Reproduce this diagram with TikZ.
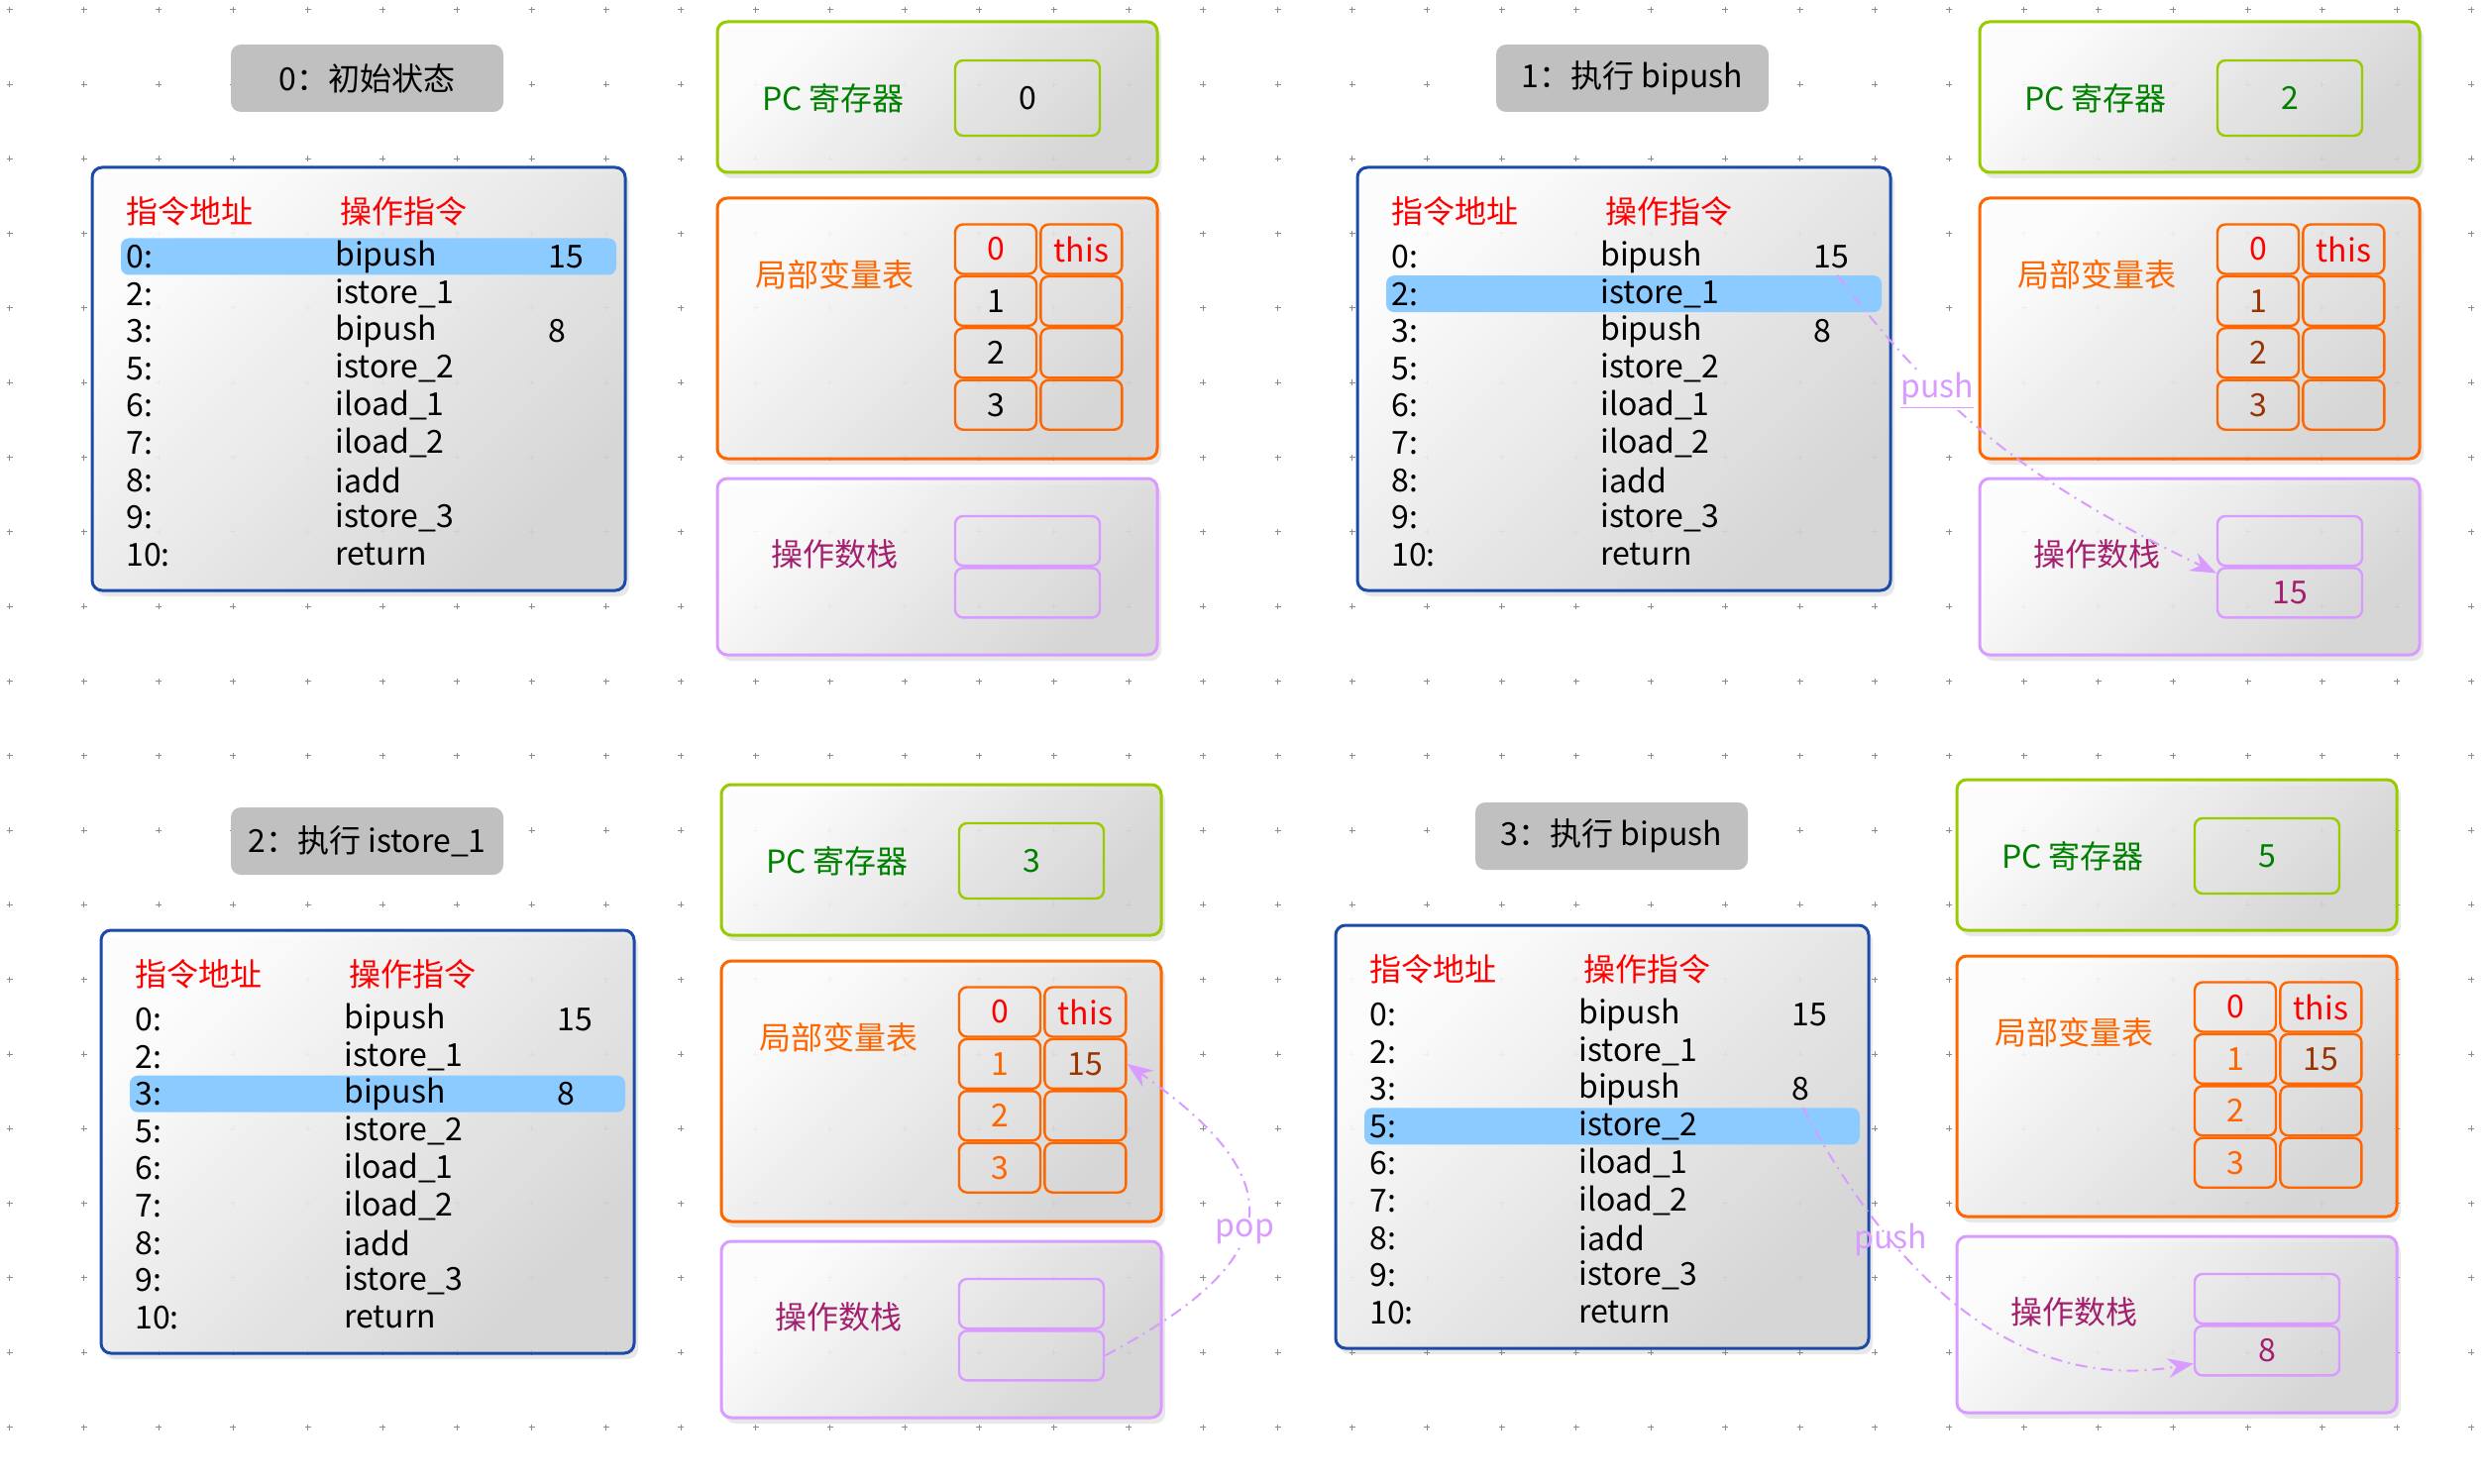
\documentclass[tikz,border=0pt]{standalone}
\usepackage{fontspec}
\setmainfont{Noto Sans CJK SC}
\usetikzlibrary{arrows.meta, calc, positioning, shadows}
\definecolor{codeblue}{HTML}{1C4AA8}
\definecolor{hlblue}{HTML}{8CCBFF}
\definecolor{pcgreen}{HTML}{99CC00}
\definecolor{txtgreen}{HTML}{008000}
\definecolor{lvorange}{HTML}{FF6600}
\definecolor{lvbrown}{HTML}{993300}
\definecolor{oslilac}{HTML}{D99BFF}
\definecolor{osplum}{HTML}{A3206E}
\definecolor{titlegray}{HTML}{C0C0C0}
\tikzset{
  gridmark/.style={draw=black!45, line width=0.5pt},
  panel/.style={draw, rounded corners=5pt, line width=1.5pt, top color=white, bottom color=black!17,
    shading angle=45, fill opacity=0.9,
    drop shadow={shadow xshift=2pt, shadow yshift=-3pt, opacity=0.18}},
  codebox/.style={panel, draw=codeblue, minimum width=269pt, minimum height=213.5pt},
  pcbox/.style={panel, draw=pcgreen, minimum width=222pt, minimum height=76pt},
  lvbox/.style={panel, draw=lvorange, minimum width=222pt, minimum height=131.5pt},
  osbox/.style={panel, draw=oslilac, minimum width=222pt, minimum height=89pt},
  titlebox/.style={fill=titlegray, rounded corners=5pt, minimum width=137.5pt, minimum height=34pt},
  hlbar/.style={fill=hlblue, rounded corners=4pt, minimum width=250pt, minimum height=18.5pt, inner sep=0pt},
  rowtext/.style={anchor=west, inner sep=0pt},
  pcval/.style={draw=pcgreen, line width=1.2pt, rounded corners=4pt, minimum width=73pt, minimum height=38pt},
  lvcell/.style={draw=lvorange, line width=1.2pt, rounded corners=4pt, minimum width=41pt, minimum height=25pt, inner sep=0pt},
  oscell/.style={draw=oslilac, line width=1.2pt, rounded corners=4pt, minimum width=73pt, minimum height=25pt, inner sep=0pt},
  flow/.style={draw=oslilac, line width=1pt, dash pattern=on 6pt off 3pt on 1pt off 3pt,
    -{Stealth[length=13pt, width=10pt]}},
  flowlabel/.style={text=oslilac, inner sep=1pt}
}

\begin{document}
\begin{tikzpicture}[x=0.5pt, y=0.5pt, font=\fontsize{16}{19}\selectfont]
  \useasboundingbox (0,0) rectangle (2506,-1498);
  % dotted grid
  \foreach \i in {0,...,33}
    \foreach \j in {0,...,19}
      \draw[gridmark] ({9.5+75.3*\i},{-9.8-75.3*\j}) ++(-3,0) -- ++(6,0) ++(-3,-3) -- ++(0,6);

  % one step per panel
  \foreach \p/\tx/\lx/\ly/\rx/\ttl/\hl/\pc/\pccol/\numcol/\lvb/\osb in {
      0/0/0/0/0/0：初始状态/0/0/black/black//,
      1/1277/1277/0/1274/1：执行 bipush/1/2/txtgreen/lvbrown//15,
      2/0/9/770/4/2：执行 istore\_1/2/3/txtgreen/lvorange/15/,
      3/1256/1255/765/1251/3：执行 bipush/3/5/txtgreen/lvorange/15/8}
  {
    \begin{scope}[shift={(\tx,-\ly)}]
      \node[titlebox] (title\p) at (370.5,-79) {\ttl};
    \end{scope}
    \begin{scope}[shift={(\lx,-\ly)}]
      \node[codebox] (code\p) at (362,-382.5) {};
      \node[hlbar] (hl\p) at (372,{-259-37.6*\hl}) {};
      \node[rowtext, text=red] (head\p a) at (127,-213) {指令地址};
      \node[rowtext, text=red] (head\p b) at (343,-213) {操作指令};
      \foreach \a/\op/\v [count=\k from 0] in {0:/bipush/15, 2:/istore\_1/, 3:/bipush/8,
          5:/istore\_2/, 6:/iload\_1/, 7:/iload\_2/, 8:/iadd/, 9:/istore\_3/, 10:/return/}
      {
        \node[rowtext] (adr\p-\k) at (127,{-259-37.6*\k}) {\a};
        \node[rowtext] (op\p-\k) at (338,{-259-37.6*\k}) {\op};
        \node[rowtext] (val\p-\k) at (553,{-259-37.6*\k}) {\v};
      }
    \end{scope}
    \begin{scope}[shift={(\rx,-\ly)}]
      \node[pcbox] (pc\p) at (946,-98) {};
      \node[text=txtgreen] (pclabel\p) at (841,-99) {PC 寄存器};
      \node[pcval, text=\pccol] (pcval\p) at (1037,-99) {\pc};
      \node[lvbox] (lv\p) at (946,-331.5) {};
      \node[text=lvorange] (lvlabel\p) at (842,-277) {局部变量表};
      \node[lvcell, text=red] (lvk0\p) at (1005,-251.5) {0};
      \node[lvcell, text=red, right=1pt of lvk0\p] (lvv0\p) {this};
      \foreach \r [remember=\r as \q (initially 0)] in {1,2,3}
      {
        \node[lvcell, text=\numcol, below=0pt of lvk\q\p] (lvk\r\p) {\r};
        \node[lvcell, text=lvbrown, right=1pt of lvk\r\p] (lvv\r\p) {\ifnum\r=1 \lvb\fi};
      }
      \node[osbox] (os\p) at (946,-572) {};
      \node[text=osplum] (oslabel\p) at (842,-559) {操作数栈};
      \node[oscell] (osa\p) at (1037,-546) {};
      \node[oscell, text=osplum, below=0pt of osa\p] (osb\p) {\osb};
    \end{scope}
  }

  % push / pop
  \draw[flow] ($(hl1.north east)+(-45,0)$) to[out=-53, in=154]
    node[flowlabel, pos=.3, fill=white] {\underline{push}} (osb1.165);
  \draw[flow] (osb2.east) to[out=28, in=-35, looseness=1.8]
    node[flowlabel, pos=.45, fill=white] {pop} (lvv12.east);
  \draw[flow] ($(hl3.north east)+(-58,0)$) to[out=-62, in=190]
    node[flowlabel, pos=.3] {push} (osb3.190);
\end{tikzpicture}
\end{document}
